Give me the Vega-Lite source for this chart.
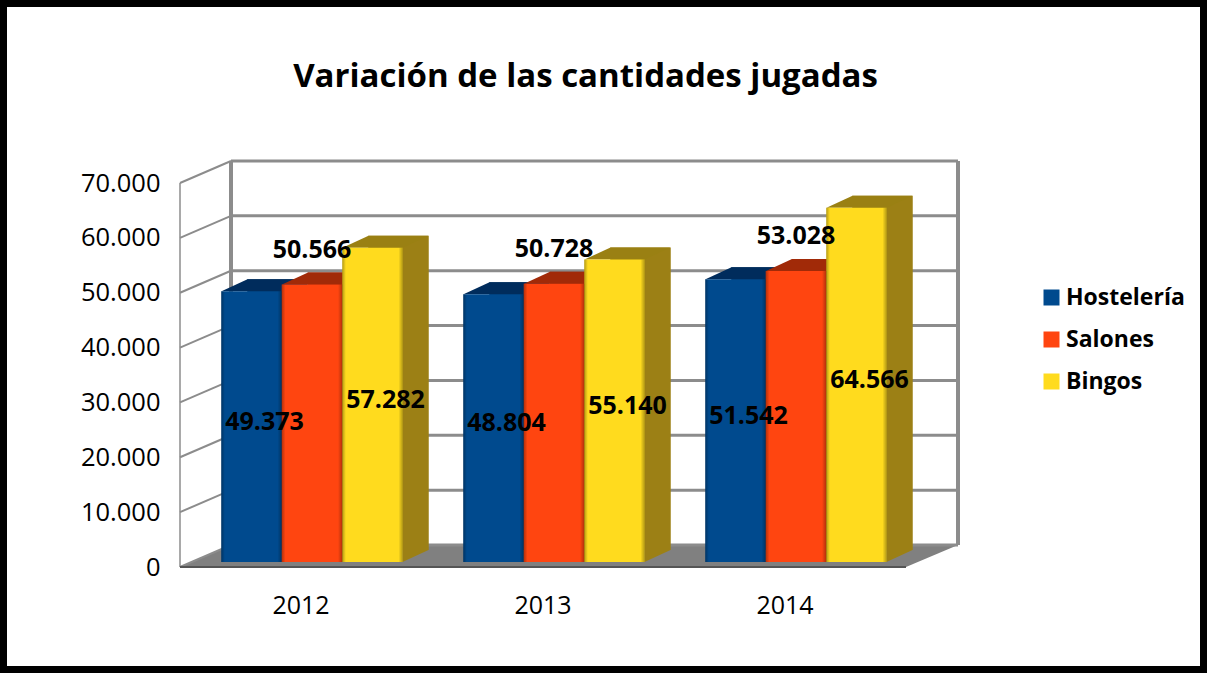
{
"$schema":"https://vega.github.io/schema/vega-lite/v6.json",
"width":1207,"height":673,"padding":0,"autosize":{"type":"none"},
"background":"white",
"view":{"stroke":"black","strokeWidth":14,"fill":"white"},
"title":{"text":"Variación de las cantidades jugadas","font":"Open Sans","fontWeight":"bold","fontSize":33,"color":"black","anchor":"middle","frame":"group","dx":-18,"offset":-94},
"datasets":{
"bars":[
{"year":"2012","series":"Hostelería","value":49373,"label":"49.373"},
{"year":"2012","series":"Salones","value":50566,"label":"50.566"},
{"year":"2012","series":"Bingos","value":57282,"label":"57.282"},
{"year":"2013","series":"Hostelería","value":48804,"label":"48.804"},
{"year":"2013","series":"Salones","value":50728,"label":"50.728"},
{"year":"2013","series":"Bingos","value":55140,"label":"55.140"},
{"year":"2014","series":"Hostelería","value":51542,"label":"51.542"},
{"year":"2014","series":"Salones","value":53028,"label":"53.028"},
{"year":"2014","series":"Bingos","value":64566,"label":"64.566"}],
"ticks":[{"tick":0},{"tick":10000},{"tick":20000},{"tick":30000},{"tick":40000},{"tick":50000},{"tick":60000},{"tick":70000}]
},
"resolve":{"scale":{"x":"independent","y":"independent","xOffset":"independent"}},
"layer":[
{"resolve":{"scale":{"x":"independent","xOffset":"independent"}},
 "layer":[
{"data":{"name":"ticks"},
 "encoding":{
  "x":{"datum":0,"type":"quantitative","scale":{"domain":[0,778],"range":[180,958]},"axis":null},
  "y":{"field":"tick","type":"quantitative","scale":{"domain":[0,70000],"range":[567,183],"nice":false,"zero":false},
   "axis":{"title":null,"values":[0,10000,20000,30000,40000,50000,60000,70000],"labelExpr":"replace(format(datum.value,','),',','.')","domain":false,"ticks":false,"grid":false,"offset":-180,"labelPadding":20,"labelFont":"Open Sans","labelFontSize":25.5,"labelColor":"black"}}},
 "layer":[
  {"transform":[{"filter":"datum.tick==0"}],"mark":{"type":"point","filled":true,"opacity":1,"strokeWidth":0,"size":4,"color":"#808080","shape":"M0,0 L726,0 L778,-22 L51,-22 Z"}},
  {"mark":{"type":"rule","color":"#8c8c8c","strokeWidth":3,"yOffset":-22,"y2Offset":-22},
   "encoding":{"x":{"datum":51,"type":"quantitative"},"x2":{"datum":778}}},
  {"mark":{"type":"rule","color":"#8c8c8c","strokeWidth":2,"y2Offset":-22},
   "encoding":{"x":{"datum":0,"type":"quantitative"},"x2":{"datum":51},"y2":{"field":"tick"}}},
  {"transform":[{"filter":"datum.tick==0"}],"mark":{"type":"rule","color":"#8c8c8c","strokeWidth":4,"yOffset":-22,"y2Offset":-22},
   "encoding":{"x":{"datum":51,"type":"quantitative"},"y2":{"datum":70000}}},
  {"transform":[{"filter":"datum.tick==0"}],"mark":{"type":"rule","color":"#8c8c8c","strokeWidth":4,"yOffset":-22,"y2Offset":-22},
   "encoding":{"x":{"datum":778,"type":"quantitative"},"y2":{"datum":70000}}},
  {"transform":[{"filter":"datum.tick==0"}],"mark":{"type":"rule","color":"#8c8c8c","strokeWidth":1.5},
   "encoding":{"x":{"datum":0,"type":"quantitative"},"y2":{"datum":70000}}},
  {"transform":[{"filter":"datum.tick==0"}],"mark":{"type":"rule","color":"#555555","strokeWidth":2},
   "encoding":{"x":{"datum":0,"type":"quantitative"},"x2":{"datum":726}}}
 ]},
{"data":{"name":"bars"},
 "transform":[{"filter":"datum.series=='Hostelería'"}],
 "encoding":{"x":{"field":"year","type":"nominal","scale":{"range":[217,943],"paddingInner":0.25,"paddingOuter":0.125},"axis":null},
  "xOffset":{"field":"series","type":"nominal","scale":{"domain":["Hostelería","Salones","Bingos"]}},
  "y":{"field":"value","type":"quantitative"},"y2":{"datum":0}},
 "mark":{"type":"bar","fill":"#003058","yOffset":-17,"y2Offset":-17}},
{"data":{"name":"bars"},
 "transform":[{"filter":"datum.series=='Hostelería'"}],
 "encoding":{"x":{"field":"year","type":"nominal","scale":{"range":[180,906],"paddingInner":0.25,"paddingOuter":0.125},"axis":null},
  "xOffset":{"field":"series","type":"nominal","scale":{"domain":["Hostelería","Salones","Bingos"]}},
  "y":{"field":"value","type":"quantitative"}},
 "layer":[
  {"mark":{"type":"point","filled":true,"opacity":1,"strokeWidth":0,"size":4,"color":"#003058","shape":"M41,-5 L67,-17 L41,-17 Z"},"encoding":{"y":{"datum":0,"type":"quantitative"}}},
  {"mark":{"type":"point","filled":true,"opacity":1,"strokeWidth":0,"size":4,"color":"#002c5c","shape":"M-19,-5 L41,-5 L67,-17 L7,-17 Z"}}
 ]},
{"data":{"name":"bars"},
 "transform":[{"filter":"datum.series=='Hostelería'"}],
 "encoding":{"x":{"field":"year","type":"nominal","scale":{"range":[191,917],"paddingInner":0.25,"paddingOuter":0.125},"axis":null},
  "xOffset":{"field":"series","type":"nominal","scale":{"domain":["Hostelería","Salones","Bingos"]}},
  "y":{"field":"value","type":"quantitative"},"y2":{"datum":0},
  "color":{"field":"series","type":"nominal","scale":{"domain":["Hostelería","Salones","Bingos"],"range":["#004a8e","#ff4510","#ffdb1e"]},
    "legend":{"orient":"none","legendX":1040,"legendY":286,"title":null,"symbolType":"square","symbolSize":256,"symbolStrokeWidth":0,"symbolOpacity":1,"labelFont":"Open Sans","labelFontWeight":"bold","labelFontSize":23,"labelColor":"black","labelOffset":3,"rowPadding":18,"labelLimit":200,"values":["Hostelería","Salones","Bingos"]}}},
 "mark":{"type":"bar","yOffset":-5,"y2Offset":-5}},
{"data":{"name":"bars"},
 "transform":[{"filter":"datum.series=='Salones'"}],
 "encoding":{"x":{"field":"year","type":"nominal","scale":{"range":[217,943],"paddingInner":0.25,"paddingOuter":0.125},"axis":null},
  "xOffset":{"field":"series","type":"nominal","scale":{"domain":["Hostelería","Salones","Bingos"]}},
  "y":{"field":"value","type":"quantitative"},"y2":{"datum":0}},
 "mark":{"type":"bar","fill":"#8a2408","yOffset":-17,"y2Offset":-17}},
{"data":{"name":"bars"},
 "transform":[{"filter":"datum.series=='Salones'"}],
 "encoding":{"x":{"field":"year","type":"nominal","scale":{"range":[180,906],"paddingInner":0.25,"paddingOuter":0.125},"axis":null},
  "xOffset":{"field":"series","type":"nominal","scale":{"domain":["Hostelería","Salones","Bingos"]}},
  "y":{"field":"value","type":"quantitative"}},
 "layer":[
  {"mark":{"type":"point","filled":true,"opacity":1,"strokeWidth":0,"size":4,"color":"#8a2408","shape":"M41,-5 L67,-17 L41,-17 Z"},"encoding":{"y":{"datum":0,"type":"quantitative"}}},
  {"mark":{"type":"point","filled":true,"opacity":1,"strokeWidth":0,"size":4,"color":"#a12a08","shape":"M-19,-5 L41,-5 L67,-17 L7,-17 Z"}}
 ]},
{"data":{"name":"bars"},
 "transform":[{"filter":"datum.series=='Salones'"}],
 "encoding":{"x":{"field":"year","type":"nominal","scale":{"range":[191,917],"paddingInner":0.25,"paddingOuter":0.125},"axis":null},
  "xOffset":{"field":"series","type":"nominal","scale":{"domain":["Hostelería","Salones","Bingos"]}},
  "y":{"field":"value","type":"quantitative"},"y2":{"datum":0},
  "color":{"field":"series","type":"nominal"}},
 "mark":{"type":"bar","yOffset":-5,"y2Offset":-5}},
{"data":{"name":"bars"},
 "transform":[{"filter":"datum.series=='Bingos'"}],
 "encoding":{"x":{"field":"year","type":"nominal","scale":{"range":[217,943],"paddingInner":0.25,"paddingOuter":0.125},"axis":null},
  "xOffset":{"field":"series","type":"nominal","scale":{"domain":["Hostelería","Salones","Bingos"]}},
  "y":{"field":"value","type":"quantitative"},"y2":{"datum":0}},
 "mark":{"type":"bar","fill":"#9c8015","yOffset":-17,"y2Offset":-17}},
{"data":{"name":"bars"},
 "transform":[{"filter":"datum.series=='Bingos'"}],
 "encoding":{"x":{"field":"year","type":"nominal","scale":{"range":[180,906],"paddingInner":0.25,"paddingOuter":0.125},"axis":null},
  "xOffset":{"field":"series","type":"nominal","scale":{"domain":["Hostelería","Salones","Bingos"]}},
  "y":{"field":"value","type":"quantitative"}},
 "layer":[
  {"mark":{"type":"point","filled":true,"opacity":1,"strokeWidth":0,"size":4,"color":"#9c8015","shape":"M41,-5 L67,-17 L41,-17 Z"},"encoding":{"y":{"datum":0,"type":"quantitative"}}},
  {"mark":{"type":"point","filled":true,"opacity":1,"strokeWidth":0,"size":4,"color":"#9a8013","shape":"M-19,-5 L41,-5 L67,-17 L7,-17 Z"}}
 ]},
{"data":{"name":"bars"},
 "transform":[{"filter":"datum.series=='Bingos'"}],
 "encoding":{"x":{"field":"year","type":"nominal","scale":{"range":[191,917],"paddingInner":0.25,"paddingOuter":0.125},"axis":null},
  "xOffset":{"field":"series","type":"nominal","scale":{"domain":["Hostelería","Salones","Bingos"]}},
  "y":{"field":"value","type":"quantitative"},"y2":{"datum":0},
  "color":{"field":"series","type":"nominal"}},
 "mark":{"type":"bar","yOffset":-5,"y2Offset":-5}},
{"data":{"name":"bars"},
 "encoding":{"x":{"field":"year","type":"nominal","scale":{"range":[191,917],"paddingInner":0.25,"paddingOuter":0.125},"axis":null},
  "xOffset":{"field":"series","type":"nominal","scale":{"domain":["Hostelería","Salones","Bingos"]}},
  "y":{"field":"value","type":"quantitative"},"y2":{"datum":0}},
 "mark":{"type":"bar","yOffset":-5,"y2Offset":-5,"fill":{"gradient":"linear","x1":0,"x2":1,"y1":0,"y2":0,"stops":[{"offset":0,"color":"rgba(0,0,0,0.3)"},{"offset":0.06,"color":"rgba(0,0,0,0)"},{"offset":0.93,"color":"rgba(0,0,0,0)"},{"offset":1,"color":"rgba(0,0,0,0.3)"}]}}},
{"data":{"name":"bars"},
 "transform":[{"filter":"datum.series=='Salones'"}],
 "encoding":{"x":{"field":"year","type":"nominal","scale":{"range":[180,906],"paddingInner":0.25,"paddingOuter":0.125},
   "axis":{"title":null,"labelAngle":0,"domain":false,"ticks":false,"offset":-106,"labelPadding":26,"labelFont":"Open Sans","labelFontSize":25,"labelColor":"black"}},
  "xOffset":{"field":"series","type":"nominal","scale":{"domain":["Hostelería","Salones","Bingos"]}},
  "y":{"field":"value","type":"quantitative"},"text":{"field":"label"}},
 "mark":{"type":"text","font":"Open Sans","fontWeight":"bold","fontSize":25,"color":"black","dx":11,"dy":-40}}
 ]},
{"data":{"name":"bars"},
 "transform":[{"filter":"datum.series!='Salones'"}],
 "encoding":{"x":{"field":"year","type":"nominal","scale":{"range":[180,906],"paddingInner":0.25,"paddingOuter":0.125},"axis":null},
  "xOffset":{"field":"series","type":"nominal","scale":{"domain":["Hostelería","Salones","Bingos"]}},
  "y":{"field":"value","type":"quantitative","scale":{"domain":[0,140000],"range":[567,183],"nice":false,"zero":false},"axis":null},
  "text":{"field":"label"}},
 "mark":{"type":"text","font":"Open Sans","fontWeight":"bold","fontSize":25,"color":"black","dx":24,"dy":-10}}
]}
